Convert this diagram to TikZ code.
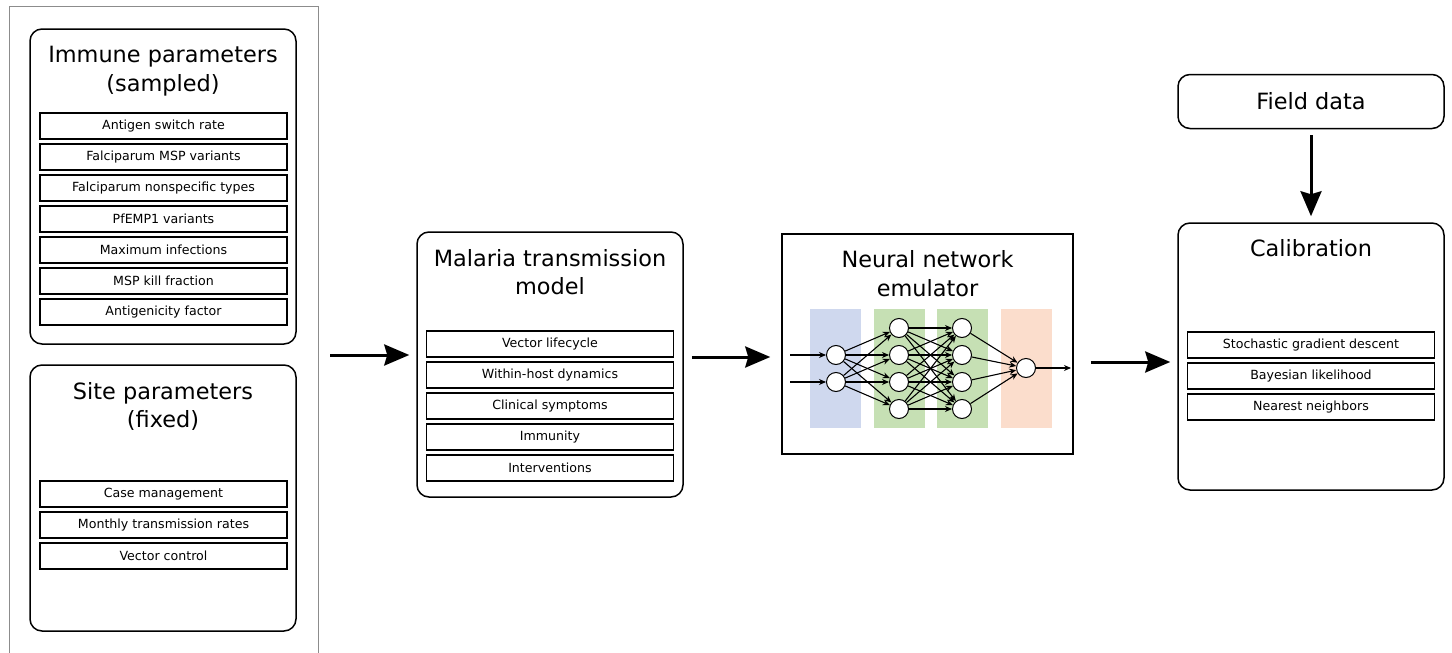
\documentclass[tikz,border=0pt]{standalone}
\usepackage{fontspec}
\setmainfont{DejaVu Sans}
\usetikzlibrary{arrows.meta}

\definecolor{layerblue}{RGB}{207,216,238}
\definecolor{layergreen}{RGB}{198,224,180}
\definecolor{layerorange}{RGB}{251,221,204}

\tikzset{
    panel/.style={draw, line width=0.75pt, rounded corners=6pt, inner sep=0pt},
    item/.style={draw, line width=0.65pt, minimum width=123.5pt, minimum height=13pt,
        inner sep=0pt, font=\fontsize{6.3}{7.5}\selectfont},
    heading/.style={align=center, font=\fontsize{11.2}{14.3}\selectfont},
    flow/.style={-{Stealth[length=12.5pt, width=10.5pt, inset=1.5pt]}, line width=1.5pt},
    neuron/.style={circle, draw, fill=white, line width=0.5pt, minimum size=9.5pt, inner sep=0pt},
    link/.style={-{Stealth[length=3.5pt, width=3pt]}, line width=0.55pt},
}

\begin{document}
\begin{tikzpicture}[x=0.5pt, y=-0.5pt]
\useasboundingbox (0,0) rectangle (1452,653);

% ========= 输入参数 =========
\draw[black!45, line width=0.5pt] (9,653) -- (9,6) -- (318,6) -- (318,653);
\coordinate (inputs) at (318,355);

% 免疫参数
\node[panel, minimum width=133pt, minimum height=157.5pt] (immune) at (163,186.5) {};
\node[heading] (immunetitle) at (163,71) {Immune parameters\\(sampled)};
\foreach \txt [count=\k] in {Antigen switch rate, Falciparum MSP variants,
    Falciparum nonspecific types, PfEMP1 variants, Maximum infections,
    MSP kill fraction, Antigenicity factor}
    \node[item] (imm\k) at (163.5,{126+31*(\k-1)}) {\txt};

% 站点参数
\node[panel, minimum width=133pt, minimum height=133pt] (site) at (163,498) {};
\node[heading] (sitetitle) at (163,406.5) {Site parameters\\(fixed)};
\foreach \txt [count=\k] in {Case management, Monthly transmission rates, Vector control}
    \node[item] (site\k) at (163.5,{494+31*(\k-1)}) {\txt};

% ========= 传播模型 =========
\node[panel, minimum width=133pt, minimum height=132.5pt] (malaria) at (550,364.5) {};
\node[heading] (malariatitle) at (550,272) {Malaria transmission\\model};
\foreach \txt [count=\k] in {Vector lifecycle, Within-host dynamics, Clinical symptoms,
    Immunity, Interventions}
    \node[item] (mal\k) at (550,{344+31*(\k-1)}) {\txt};

% ========= 神经网络 =========
\node[draw, line width=0.75pt, minimum width=145.5pt, minimum height=110pt, inner sep=0pt]
    (emulator) at (927.5,344) {};
\node[heading] (emulatortitle) at (927.5,273.5) {Neural network\\emulator};

% 层的底色
\fill[layerblue]   (810,309) rectangle (861,428);
\fill[layergreen]  (874,309) rectangle (925,428);
\fill[layergreen]  (937,309) rectangle (988,428);
\fill[layerorange] (1001,309) rectangle (1052,428);

% 神经元
\foreach \y [count=\k] in {355,382}
    \node[neuron] (in\k) at (836,\y) {};
\foreach \y [count=\k] in {328,355,382,409} {
    \node[neuron] (ha\k) at (899,\y) {};
    \node[neuron] (hb\k) at (962,\y) {};
}
\node[neuron] (out) at (1026,368) {};

% 连接
\coordinate (x1) at (790,355);
\coordinate (x2) at (790,382);
\coordinate (y1) at (1071,368);
\draw[link] (x1) -- (in1);
\draw[link] (x2) -- (in2);
\foreach \a in {1,2}
    \foreach \b in {1,...,4}
        \draw[link] (in\a) -- (ha\b);
\foreach \a in {1,...,4}
    \foreach \b in {1,...,4}
        \draw[link] (ha\a) -- (hb\b);
\foreach \a in {1,...,4}
    \draw[link] (hb\a) -- (out);
\draw[link] (out) -- (y1);

% ========= 校准 =========
\node[panel, minimum width=133pt, minimum height=27pt, heading] (field) at (1311,101.5) {Field data};
\node[panel, minimum width=133pt, minimum height=133.5pt] (calib) at (1311,356.5) {};
\node[heading] (calibtitle) at (1311,248) {Calibration};
\foreach \txt [count=\k] in {Stochastic gradient descent, Bayesian likelihood, Nearest neighbors}
    \node[item] (cal\k) at (1311,{345+31*(\k-1)}) {\txt};

% 主流程箭头
\draw[flow, shorten <=6pt, shorten >=3.5pt] (inputs) -- (malaria.west |- inputs);
\draw[flow, shorten <=4pt, shorten >=5.5pt] (malaria.east |- 0,357) -- (emulator.west |- 0,357);
\draw[flow, shorten <=8.5pt, shorten >=3.5pt] (emulator.east |- 0,362) -- (calib.west |- 0,362);
\draw[flow, shorten <=3pt, shorten >=3pt] (field.south) -- (calib.north);
\end{tikzpicture}
\end{document}
